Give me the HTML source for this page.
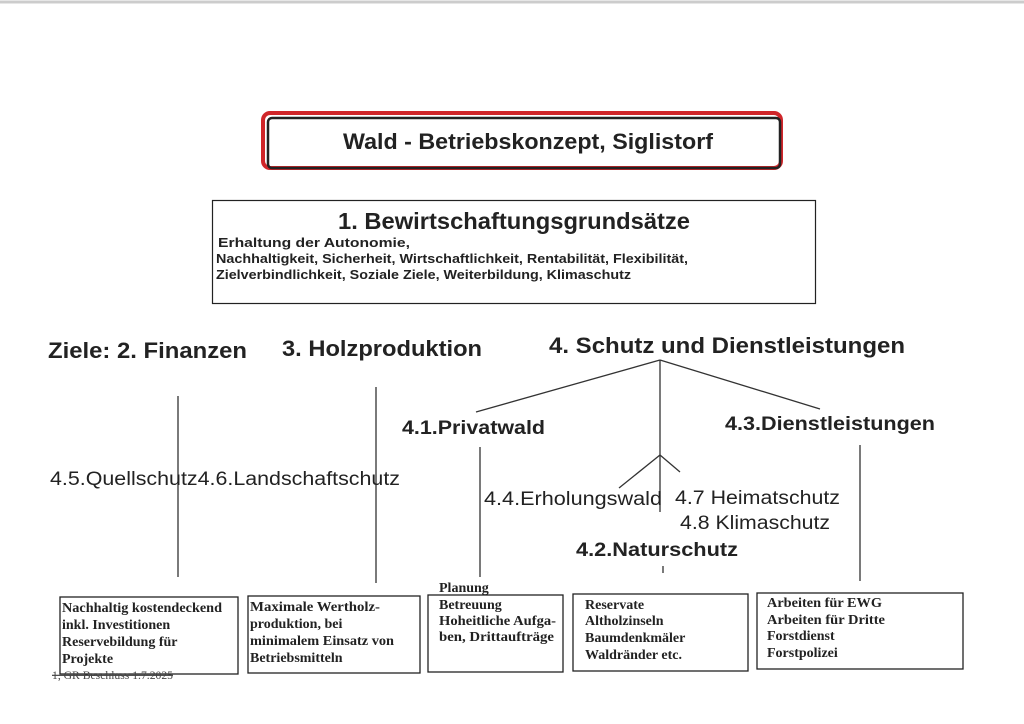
<!DOCTYPE html>
<html><head><meta charset="utf-8"><style>
html,body{margin:0;padding:0;background:#fff;}
svg{display:block}
.s{font-family:"Liberation Sans",sans-serif;fill:#222}
.r{font-family:"Liberation Serif",serif;font-weight:bold;font-size:14px;fill:#222}
</style></head><body>
<svg width="1024" height="724" viewBox="0 0 1024 724" xmlns="http://www.w3.org/2000/svg">
<rect x="0" y="0" width="1024" height="724" fill="#fff"/>
<line x1="0" y1="2" x2="1024" y2="2" stroke="#ccc" stroke-width="3"/>
<rect x="263" y="113" width="518" height="55" rx="7" fill="none" stroke="#d0262a" stroke-width="4"/>
<rect x="268" y="118" width="512" height="50" rx="4" fill="none" stroke="#222" stroke-width="2.5"/>
<text x="343" y="149" class="s" font-size="22" font-weight="bold" textLength="370" lengthAdjust="spacingAndGlyphs">Wald - Betriebskonzept, Siglistorf</text>
<rect x="212.5" y="200.5" width="603" height="103" fill="none" stroke="#222" stroke-width="1.2"/>
<text x="338" y="229" class="s" font-size="23" font-weight="bold" textLength="352" lengthAdjust="spacingAndGlyphs">1. Bewirtschaftungsgrundsätze</text>
<text x="218" y="247" class="s" font-size="13" font-weight="bold" textLength="192" lengthAdjust="spacingAndGlyphs">Erhaltung der Autonomie,</text>
<text x="216" y="263" class="s" font-size="13" font-weight="bold" textLength="472" lengthAdjust="spacingAndGlyphs">Nachhaltigkeit, Sicherheit, Wirtschaftlichkeit, Rentabilität, Flexibilität,</text>
<text x="216" y="279" class="s" font-size="13" font-weight="bold" textLength="415" lengthAdjust="spacingAndGlyphs">Zielverbindlichkeit, Soziale Ziele, Weiterbildung, Klimaschutz</text>
<text x="48" y="358" class="s" font-size="22" font-weight="bold" textLength="199" lengthAdjust="spacingAndGlyphs">Ziele: 2. Finanzen</text>
<text x="282" y="356" class="s" font-size="22" font-weight="bold" textLength="200" lengthAdjust="spacingAndGlyphs">3. Holzproduktion</text>
<text x="549" y="353" class="s" font-size="22" font-weight="bold" textLength="356" lengthAdjust="spacingAndGlyphs">4. Schutz und Dienstleistungen</text>
<g stroke="#333" stroke-width="1.3" fill="none">
<line x1="660" y1="360" x2="660" y2="512"/>
<line x1="660" y1="360" x2="476" y2="412"/>
<line x1="660" y1="360" x2="820" y2="409"/>
<line x1="178" y1="396" x2="178" y2="577"/>
<line x1="376" y1="387" x2="376" y2="583"/>
<line x1="480" y1="447" x2="480" y2="577"/>
<line x1="860" y1="445" x2="860" y2="581"/>
<line x1="663" y1="566" x2="663" y2="573"/>
<line x1="660" y1="455" x2="619" y2="488"/>
<line x1="660" y1="455" x2="680" y2="472"/>
</g>
<text x="402" y="434" class="s" font-size="19" font-weight="bold" textLength="143" lengthAdjust="spacingAndGlyphs">4.1.Privatwald</text>
<text x="725" y="430" class="s" font-size="19" font-weight="bold" textLength="210" lengthAdjust="spacingAndGlyphs">4.3.Dienstleistungen</text>
<text x="50" y="485" class="s" font-size="19" textLength="350" lengthAdjust="spacingAndGlyphs">4.5.Quellschutz4.6.Landschaftschutz</text>
<text x="484" y="505" class="s" font-size="19" textLength="178" lengthAdjust="spacingAndGlyphs">4.4.Erholungswald</text>
<text x="675" y="504" class="s" font-size="19" textLength="165" lengthAdjust="spacingAndGlyphs">4.7 Heimatschutz</text>
<text x="680" y="529" class="s" font-size="19" textLength="150" lengthAdjust="spacingAndGlyphs">4.8 Klimaschutz</text>
<text x="576" y="556" class="s" font-size="19" font-weight="bold" textLength="162" lengthAdjust="spacingAndGlyphs">4.2.Naturschutz</text>
<g fill="none" stroke="#222" stroke-width="1.3">
<rect x="60" y="597" width="178" height="77"/>
<rect x="248" y="596" width="172" height="77"/>
<rect x="428" y="595" width="135" height="77"/>
<rect x="573" y="594" width="175" height="77"/>
<rect x="757" y="593" width="206" height="76"/>
</g>
<text class="r" x="62" y="612" textLength="160" lengthAdjust="spacingAndGlyphs">Nachhaltig kostendeckend</text>
<text class="r" x="62" y="629">inkl. Investitionen</text>
<text class="r" x="62" y="646">Reservebildung für</text>
<text class="r" x="62" y="663">Projekte</text>
<text class="r" x="250" y="611" textLength="130" lengthAdjust="spacingAndGlyphs">Maximale Wertholz-</text>
<text class="r" x="250" y="628">produktion, bei</text>
<text class="r" x="250" y="645" textLength="144" lengthAdjust="spacingAndGlyphs">minimalem Einsatz von</text>
<text class="r" x="250" y="662">Betriebsmitteln</text>
<text class="r" x="439" y="592" font-size="12.5">Planung</text>
<text class="r" x="439" y="609">Betreuung</text>
<text class="r" x="439" y="625" textLength="117" lengthAdjust="spacingAndGlyphs">Hoheitliche Aufga-</text>
<text class="r" x="439" y="641" textLength="115" lengthAdjust="spacingAndGlyphs">ben, Drittaufträge</text>
<text class="r" x="585" y="609">Reservate</text>
<text class="r" x="585" y="625">Altholzinseln</text>
<text class="r" x="585" y="642">Baumdenkmäler</text>
<text class="r" x="585" y="659">Waldränder etc.</text>
<text class="r" x="767" y="607" textLength="115" lengthAdjust="spacingAndGlyphs">Arbeiten für EWG</text>
<text class="r" x="767" y="624" textLength="118" lengthAdjust="spacingAndGlyphs">Arbeiten für Dritte</text>
<text class="r" x="767" y="640">Forstdienst</text>
<text class="r" x="767" y="657">Forstpolizei</text>
<text x="52" y="679" font-family="Liberation Serif,serif" font-size="12" fill="#444" text-decoration="line-through" textLength="121" lengthAdjust="spacingAndGlyphs">1, GR Beschluss 1.7.2025</text>
</svg>
</body></html>
